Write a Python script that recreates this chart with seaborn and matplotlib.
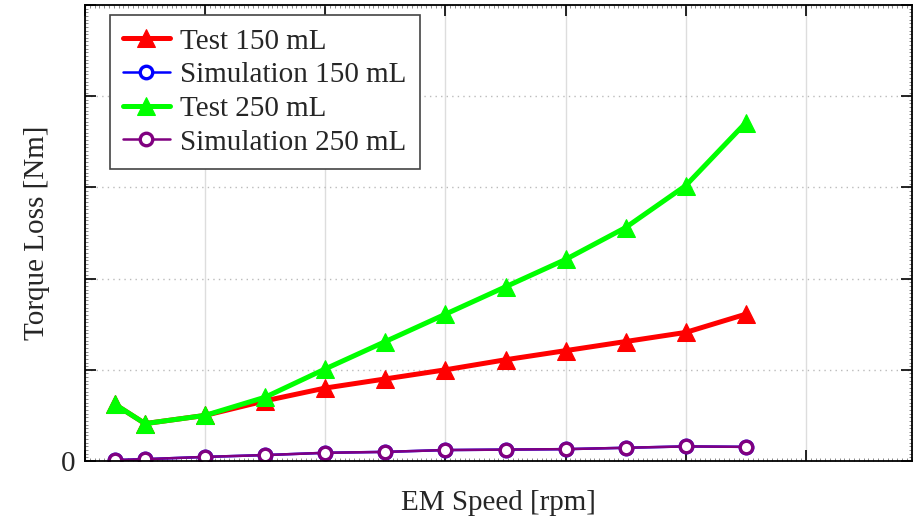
import numpy as np
import pandas as pd
import matplotlib
matplotlib.use("Agg")
import matplotlib.pyplot as plt
import seaborn as sns
from matplotlib.ticker import MultipleLocator

# EM speed [rpm]
speed = [250, 500, 1000, 1500, 2000, 2500, 3000, 3500, 4000, 4500, 5000, 5500]
# torque loss [Nm]
test_150 = [0.62, 0.41, 0.50, 0.66, 0.80, 0.90, 1.00, 1.11, 1.21, 1.31, 1.41, 1.61]
sim_150 = [0.01, 0.02, 0.045, 0.065, 0.09, 0.10, 0.12, 0.125, 0.13, 0.145, 0.16, 0.155]
test_250 = [0.62, 0.41, 0.50, 0.70, 1.01, 1.31, 1.61, 1.91, 2.21, 2.56, 3.02, 3.71]
sim_250 = [0.01, 0.02, 0.045, 0.065, 0.09, 0.10, 0.12, 0.125, 0.13, 0.145, 0.16, 0.155]

series = {
    "Test 150 mL": (test_150, "#ff0000", "^", 3.6, 13),
    "Simulation 150 mL": (sim_150, "#0000ff", "o", 1.8, 9),
    "Test 250 mL": (test_250, "#00ff00", "^", 3.6, 13),
    "Simulation 250 mL": (sim_250, "#800080", "o", 1.8, 9),
}

sns.set_style("white")
plt.rcParams["font.family"] = ["Liberation Serif", "DejaVu Serif"]
FS = 21

fig = plt.figure(figsize=(9.13, 5.23), dpi=100)
ax = fig.add_axes([85 / 913, 1 - 461 / 523, 1 - 85 / 913 - 1 / 913, (461 - 5) / 523])

for name, (vals, col, mk, lw, ms) in series.items():
    df = pd.DataFrame({"speed": speed, "loss": vals})
    if mk == "^":
        sns.lineplot(data=df, x="speed", y="loss", ax=ax, color=col, lw=lw,
                     marker=mk, markersize=ms, markeredgecolor=col, label=name)
    else:
        sns.lineplot(data=df, x="speed", y="loss", ax=ax, color=col, lw=lw,
                     marker=mk, markersize=ms, markerfacecolor="white",
                     markeredgecolor=col, markeredgewidth=2.4, label=name)

ax.set_xlim(0, 6883)
ax.set_ylim(0, 5)
ax.xaxis.set_major_locator(MultipleLocator(1000))
ax.xaxis.set_minor_locator(MultipleLocator(40))
ax.yaxis.set_minor_locator(MultipleLocator(0.04))
ax.set_xticklabels([])
ax.set_yticks([0, 1, 2, 3, 4, 5])
ax.set_yticklabels(["0", "", "", "", "", ""], fontsize=FS)

ax.tick_params(which="major", direction="in", length=8, width=1.2,
               top=True, right=True, bottom=True, left=True, color="black", pad=7)
ax.tick_params(which="minor", direction="in", length=2.0, width=0.6,
               top=True, right=True, bottom=True, left=True, color="#777777")

ax.xaxis.grid(True, which="major", color="#dddddd", lw=1.0, ls="-")
ax.yaxis.grid(True, which="major", color="#bbbbbb", lw=1.0, ls=(0, (1, 3)))
ax.set_axisbelow(True)
for s in ax.spines.values():
    s.set_color("black")
    s.set_linewidth(1.3)

ax.set_xlabel("EM Speed [rpm]", fontsize=FS, labelpad=14)
ax.set_ylabel("Torque Loss [Nm]", fontsize=FS, labelpad=8)

leg = ax.legend(loc="upper left", bbox_to_anchor=((110 - 85) / 826, 1 - 10 / 456),
                fontsize=FS, frameon=True, fancybox=False, edgecolor="#444444",
                handlelength=1.6, handletextpad=0.35, labelspacing=0.25,
                borderpad=0.45, borderaxespad=0.0)
leg.get_frame().set_linewidth(1.2)
leg.get_frame().set_alpha(1.0)

fig.savefig("out.png", dpi=100)
